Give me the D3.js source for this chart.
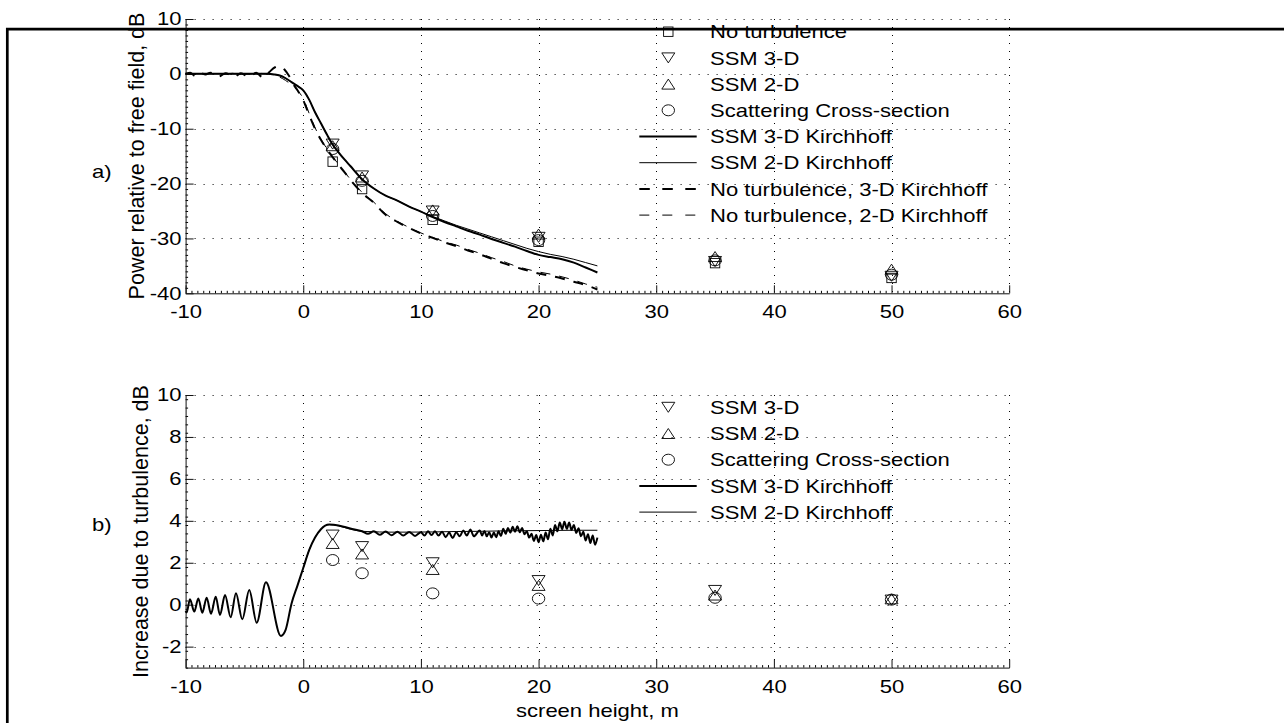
<!DOCTYPE html>
<html><head><meta charset="utf-8">
<script src="https://cdn.jsdelivr.net/npm/d3@7"></script>
<style>
body{margin:0;background:#fff;}
svg{display:block;font-family:"Liberation Sans",Arial,Helvetica,sans-serif;}
</style></head><body>
<svg id="c" width="1284" height="723"></svg>
<script>
// ---------------- DATA ----------------
const xTicks = [-10, 0, 10, 20, 30, 40, 50, 60];
const topYTicks = [-40, -30, -20, -10, 0, 10];
const botYTicks = [-2, 0, 2, 4, 6, 8, 10];
const markerX = [2.5, 5, 11, 20, 35, 50];

// panel a) markers
const aNoTurb = [-16.0, -21.0, -26.6, -30.6, -34.5, -37.2];
const aSsm3d  = [-12.8, -18.6, -25.0, -29.8, -34.2, -36.9];
const aSsm2d  = [-13.1, -18.8, -24.8, -29.2, -33.3, -35.6];
const aScs    = [-13.7, -19.5, -25.9, -30.3, -34.0, -36.6];

// panel b) markers
const bSsm3d = [3.32, 2.77, 2.00, 1.15, 0.68, 0.22];
const bSsm2d = [2.92, 2.42, 1.68, 0.92, 0.46, 0.28];
const bScs   = [2.13, 1.50, 0.54, 0.29, 0.33, 0.24];

// panel a) curves [x, dB]
const aKirch3d = [[-10,0],[-8,0],[-6,0],[-4,0],[-3,0],[-2.5,-0.1],[-2,-0.3],[-1.5,-0.8],[-1,-1.5],[-0.5,-2.2],[0,-3.0],[0.5,-4.7],[1,-7.0],[1.5,-9.0],[2,-11.0],[2.5,-12.9],[3,-14.3],[3.5,-15.6],[4,-16.8],[5,-19.2],[6,-20.9],[7,-22.2],[8,-23.1],[9,-24.2],[10,-25.1],[11,-26.1],[12,-27.0],[13,-27.8],[14,-28.6],[15,-29.3],[16,-30.1],[17,-30.8],[18,-31.5],[19,-32.3],[20,-33.0],[21,-33.4],[22,-33.8],[23,-34.4],[24,-35.3],[25,-36.2]];
const aKirch2d = [[-10,0],[-8,0],[-6,0],[-4,0],[-3,0],[-2.5,-0.1],[-2,-0.3],[-1.5,-0.8],[-1,-1.5],[-0.5,-2.2],[0,-3.0],[0.5,-4.7],[1,-7.0],[1.5,-9.0],[2,-11.0],[2.5,-12.9],[3,-14.3],[3.5,-15.6],[4,-16.8],[5,-19.2],[6,-20.9],[7,-22.2],[8,-23.1],[9,-24.2],[10,-25.1],[11,-26.0],[12,-26.8],[13,-27.6],[14,-28.3],[15,-29.0],[16,-29.7],[17,-30.4],[18,-31.1],[19,-31.8],[20,-32.4],[21,-32.9],[22,-33.3],[23,-33.8],[24,-34.4],[25,-35.0]];
const aNoTurb3d = [[-10,0],[-9.6,0.2],[-9.2,-0.4],[-8.8,0.2],[-8.3,-0.1],[-7.9,0.2],[-7.2,-0.5],[-6.6,0.1],[-5.9,-0.6],[-5.3,0.1],[-4.6,-0.6],[-4.0,0.2],[-3.4,-0.7],[-2.9,0.3],[-2.4,1.2],[-2.0,1.4],[-1.6,0.8],[-1.2,-0.4],[-0.8,-2.0],[-0.4,-3.3],[0,-4.8],[0.5,-7.5],[1,-10.0],[1.5,-12.0],[2,-13.7],[2.5,-15.2],[3,-16.6],[3.5,-17.9],[4,-19.3],[5,-21.7],[6,-23.5],[7,-25.7],[8,-27.0],[9,-28.1],[10,-29.1],[11,-29.9],[12,-30.7],[13,-31.4],[14,-32.2],[15,-32.9],[16,-33.7],[17,-34.5],[18,-35.2],[19,-35.8],[20,-36.4],[21,-36.8],[22,-37.3],[23,-37.9],[24,-38.5],[25,-39.3]];
const aNoTurb2d = [[-10,0.1],[-9,-0.1],[-8,0.1],[-7,-0.1],[-6,0.1],[-5,-0.1],[-4,0.1],[-3,0],[-2.5,-0.2],[-2,-0.6],[-1.5,-1.2],[-1,-2.0],[-0.5,-3.0],[0,-4.5],[0.5,-7.2],[1,-9.8],[1.5,-11.9],[2,-13.6],[2.5,-15.1],[3,-16.5],[4,-19.2],[5,-21.6],[6,-23.4],[7,-25.5],[8,-26.9],[9,-28.0],[10,-29.0],[11,-29.8],[12,-30.6],[13,-31.2],[14,-32.0],[15,-32.7],[16,-33.5],[17,-34.2],[18,-35.0],[19,-35.6],[20,-36.1],[21,-36.5],[22,-37.0],[23,-37.6],[24,-38.3],[25,-38.9]];

// panel b) curves [x, dB]
const bKirch3d = [[-10,-0.3],[-9.91,-0.37],[-9.63,0.26],[-9.26,-0.33],[-8.92,0.30],[-8.58,-0.38],[-8.21,0.33],[-7.84,-0.43],[-7.44,0.38],[-7.08,-0.49],[-6.65,0.46],[-6.17,-0.60],[-5.72,0.54],[-5.18,-0.70],[-4.59,0.70],[-3.96,-0.86],[-3.17,1.07],[-1.9,-1.49],[-1.5,-1.2],[-1.0,0.05],[-0.5,0.9],[0,1.75],[0.5,2.6],[1.0,3.2],[1.5,3.6],[2.2,3.82],[3.0,3.78],[4.0,3.63],[5.0,3.50],
 [5.5,3.38],[6.0,3.50],[6.5,3.33],[7.0,3.49],[7.5,3.31],[8.0,3.48],[8.5,3.30],[9.0,3.47],[9.5,3.28],
 [10.0,3.46],[10.3,3.30],[10.6,3.50],[10.9,3.32],[11.2,3.50],[11.5,3.30],[11.8,3.48],[12.1,3.22],[12.4,3.44],[12.7,3.18],[13.0,3.46],[13.3,3.26],[13.6,3.54],[13.9,3.30],[14.2,3.58],[14.5,3.26],
 [15.0,3.54],[15.2,3.30],[15.4,3.52],[15.6,3.26],[15.8,3.46],[16.0,3.20],[16.2,3.44],[16.4,3.22],[16.6,3.50],[16.8,3.28],[17.0,3.62],[17.2,3.38],[17.4,3.66],[17.6,3.44],[17.8,3.72],[18.0,3.48],[18.2,3.74],[18.4,3.46],[18.6,3.66],[18.8,3.36],[19.0,3.50],[19.2,3.20],[19.4,3.38],[19.6,3.04],[19.8,3.32],[20.0,2.98],[20.2,3.34],[20.4,3.02],[20.6,3.44],[20.8,3.12],[21.0,3.62],[21.2,3.30],[21.4,3.80],[21.6,3.50],[21.8,3.92],[22.0,3.60],[22.2,3.96],[22.4,3.62],[22.6,3.92],[22.8,3.56],[23.0,3.80],[23.2,3.42],[23.4,3.64],[23.6,3.26],[23.8,3.48],[24.0,3.06],[24.2,3.36],[24.4,2.94],[24.6,3.30],[24.8,2.86],[25.0,3.20]];
const bKirch2d = [[0,1.75],[0.5,2.6],[1.0,3.2],[1.5,3.6],[2.2,3.82],[3.0,3.76],[4.0,3.60],[5.0,3.50],[6,3.48],[7,3.46],[9,3.46],[11,3.47],[13,3.49],[15,3.50],[17,3.52],[19,3.53],[21,3.54],[23,3.55],[25,3.55]];

const legendTop = ["No turbulence","SSM 3-D","SSM 2-D","Scattering Cross-section","SSM 3-D Kirchhoff","SSM 2-D Kirchhoff","No turbulence, 3-D Kirchhoff","No turbulence, 2-D Kirchhoff"];
const legendBot = ["SSM 3-D","SSM 2-D","Scattering Cross-section","SSM 3-D Kirchhoff","SSM 2-D Kirchhoff"];
const yLabelTop = "Power relative to free field, dB";
const yLabelBot = "Increase due to turbulence, dB";
const xLabel = "screen height, m";

// ---------------- DRAW ----------------
const SX = 1.19, FS = 18.5;
const svg = d3.select("#c");
const x = d3.scaleLinear().domain([-10, 60]).range([185.6, 1009.2]);
const yT = d3.scaleLinear().domain([-40, 10]).range([293.3, 19]);
const yB = d3.scaleLinear().domain([-3, 10]).range([667.6, 395]);
const fmt = d => String(d);

function txt(parent, px, py, s, anchor) {
  return parent.append("text")
    .attr("transform", `translate(${px},${py}) scale(${SX},1)`)
    .attr("text-anchor", anchor || "start")
    .attr("font-size", FS).attr("fill", "#000").text(s);
}

function panel(y, yTicks, yMinorStep, gridYTicks) {
  const g = svg.append("g");
  const [x0, x1] = x.range();
  const [yb, yt] = y.range();
  // grid
  g.append("g").selectAll("line").data(xTicks.filter(v => v > -10)).join("line")
    .attr("x1", d => Math.round(x(d)) + 0.5).attr("x2", d => Math.round(x(d)) + 0.5)
    .attr("y1", yt).attr("y2", yb)
    .attr("stroke", "#000").attr("stroke-width", 1).attr("stroke-dasharray", "1,7");
  g.append("g").selectAll("line").data(gridYTicks).join("line")
    .attr("x1", x0).attr("x2", x1)
    .attr("y1", d => Math.round(y(d)) + 0.5).attr("y2", d => Math.round(y(d)) + 0.5)
    .attr("stroke", "#000").attr("stroke-width", 1).attr("stroke-dasharray", "1,8");
  // minor ticks
  const xMin = d3.range(-10, 60.001, 0.5).filter(v => Math.abs(v % 10) > 1e-6);
  g.append("g").attr("transform", `translate(0,${yb})`)
    .call(d3.axisBottom(x).tickValues(xMin).tickSize(-2.5).tickSizeOuter(0).tickFormat(""))
    .call(s => s.select(".domain").remove());
  const [d0, d1] = y.domain();
  const yMin = d3.range(d0, d1 + 1e-6, yMinorStep).filter(v => !yTicks.some(t => Math.abs(t - v) < 1e-6));
  g.append("g").attr("transform", `translate(${x0},0)`)
    .call(d3.axisLeft(y).tickValues(yMin).tickSize(-2.5).tickSizeOuter(0).tickFormat(""))
    .call(s => s.select(".domain").remove());
  // major axes
  const ax = g.append("g").attr("transform", `translate(0,${yb})`)
    .call(d3.axisBottom(x).tickValues(xTicks).tickSize(-8).tickSizeOuter(0).tickPadding(11.8).tickFormat(fmt));
  ax.selectAll("text").attr("transform", `scale(${SX},1)`).attr("font-size", FS).attr("font-family", null);
  const ay = g.append("g").attr("transform", `translate(${x0},0)`)
    .call(d3.axisLeft(y).tickValues(yTicks).tickSize(-8).tickSizeOuter(0).tickPadding(4).tickFormat(fmt));
  ay.selectAll("text").attr("x", -4 / SX).attr("transform", `scale(${SX},1)`).attr("font-size", FS).attr("font-family", null);
  [ax, ay].forEach(a => { a.selectAll("line,path").attr("stroke", "#111"); a.selectAll("text").attr("fill", "#000"); });
  return g;
}

const gA = panel(yT, topYTicks, 1, topYTicks.filter(v => v > -40));
const gB = panel(yB, botYTicks, 0.4, botYTicks);

const line = (ys) => d3.line().x(d => x(d[0])).y(d => ys(d[1])).curve(d3.curveMonotoneX);

function curve(g, data, ys, w, dash) {
  g.append("path").attr("d", line(ys)(data)).attr("fill", "none")
    .attr("stroke", "#000").attr("stroke-width", w)
    .attr("stroke-dasharray", dash || null).attr("stroke-linejoin", "round");
}

// markers
function drawMarker(g, type, px, py) {
  if (type === "square") {
    g.append("rect").attr("x", px - 4.7).attr("y", py - 4.7).attr("width", 9.4).attr("height", 9.4)
      .attr("fill", "none").attr("stroke", "#000").attr("stroke-width", 0.9);
  } else if (type === "circle") {
    g.append("ellipse").attr("cx", px).attr("cy", py).attr("rx", 6.2).attr("ry", 5.5)
      .attr("fill", "none").attr("stroke", "#000").attr("stroke-width", 0.9);
  } else if (type === "down") {
    g.append("path").attr("d", `M${px - 6.5},${py - 5}L${px + 6.5},${py - 5}L${px},${py + 5}Z`)
      .attr("fill", "none").attr("stroke", "#000").attr("stroke-width", 0.9);
  } else if (type === "up") {
    g.append("path").attr("d", `M${px - 6.5},${py + 5}L${px + 6.5},${py + 5}L${px},${py - 5}Z`)
      .attr("fill", "none").attr("stroke", "#000").attr("stroke-width", 0.9);
  }
}
function series(g, vals, ys, type) {
  vals.forEach((v, i) => drawMarker(g, type, x(markerX[i]), ys(v)));
}

// panel a
curve(gA, aNoTurb2d, yT, 1, "10,9");
curve(gA, aNoTurb3d, yT, 2, "10,9");
curve(gA, aKirch2d, yT, 1);
curve(gA, aKirch3d, yT, 2);
series(gA, aNoTurb, yT, "square");
series(gA, aSsm3d, yT, "down");
series(gA, aSsm2d, yT, "up");
series(gA, aScs, yT, "circle");

// panel b
curve(gB, bKirch2d, yB, 1);
curve(gB, bKirch3d, yB, 2);
series(gB, bSsm3d, yB, "down");
series(gB, bSsm2d, yB, "up");
series(gB, bScs, yB, "circle");

// legends
function legend(g, labels, kinds, y0) {
  const step = 26.2, mx = 668.3, lx0 = 639.3, lx1 = 696.7, tx = 710;
  labels.forEach((lab, i) => {
    const cy = y0 + i * step;
    const k = kinds[i];
    if (k.marker) drawMarker(g, k.marker, mx, cy);
    else g.append("line").attr("x1", lx0).attr("x2", lx1).attr("y1", cy).attr("y2", cy)
      .attr("stroke", "#000").attr("stroke-width", k.w).attr("stroke-dasharray", k.dash || null);
    txt(g, tx, cy + 6.6, lab);
  });
}
legend(gA, legendTop, [{marker:"square"},{marker:"down"},{marker:"up"},{marker:"circle"},{w:2},{w:1},{w:2,dash:"10.5,12.5"},{w:1,dash:"10,13"}], 31.7);
legend(gB, legendBot, [{marker:"down"},{marker:"up"},{marker:"circle"},{w:2},{w:1}], 407.3);

// labels
function ylab(s, px, py) {
  svg.append("text").attr("transform", `translate(${px},${py}) rotate(-90)`)
    .attr("text-anchor", "middle").attr("font-size", 21.5).attr("fill", "#000").text(s);
}
ylab(yLabelTop, 143.5, 156);
ylab(yLabelBot, 148, 531.5);
txt(svg, 92, 178, "a)");
txt(svg, 92, 531, "b)");
txt(svg, (x.range()[0] + x.range()[1]) / 2, 716.5, xLabel, "middle");

// outer frame
svg.append("path").attr("d", "M7.3,730V29.2H1290").attr("fill", "none").attr("stroke", "#000").attr("stroke-width", 2.7);
</script>
</body></html>
